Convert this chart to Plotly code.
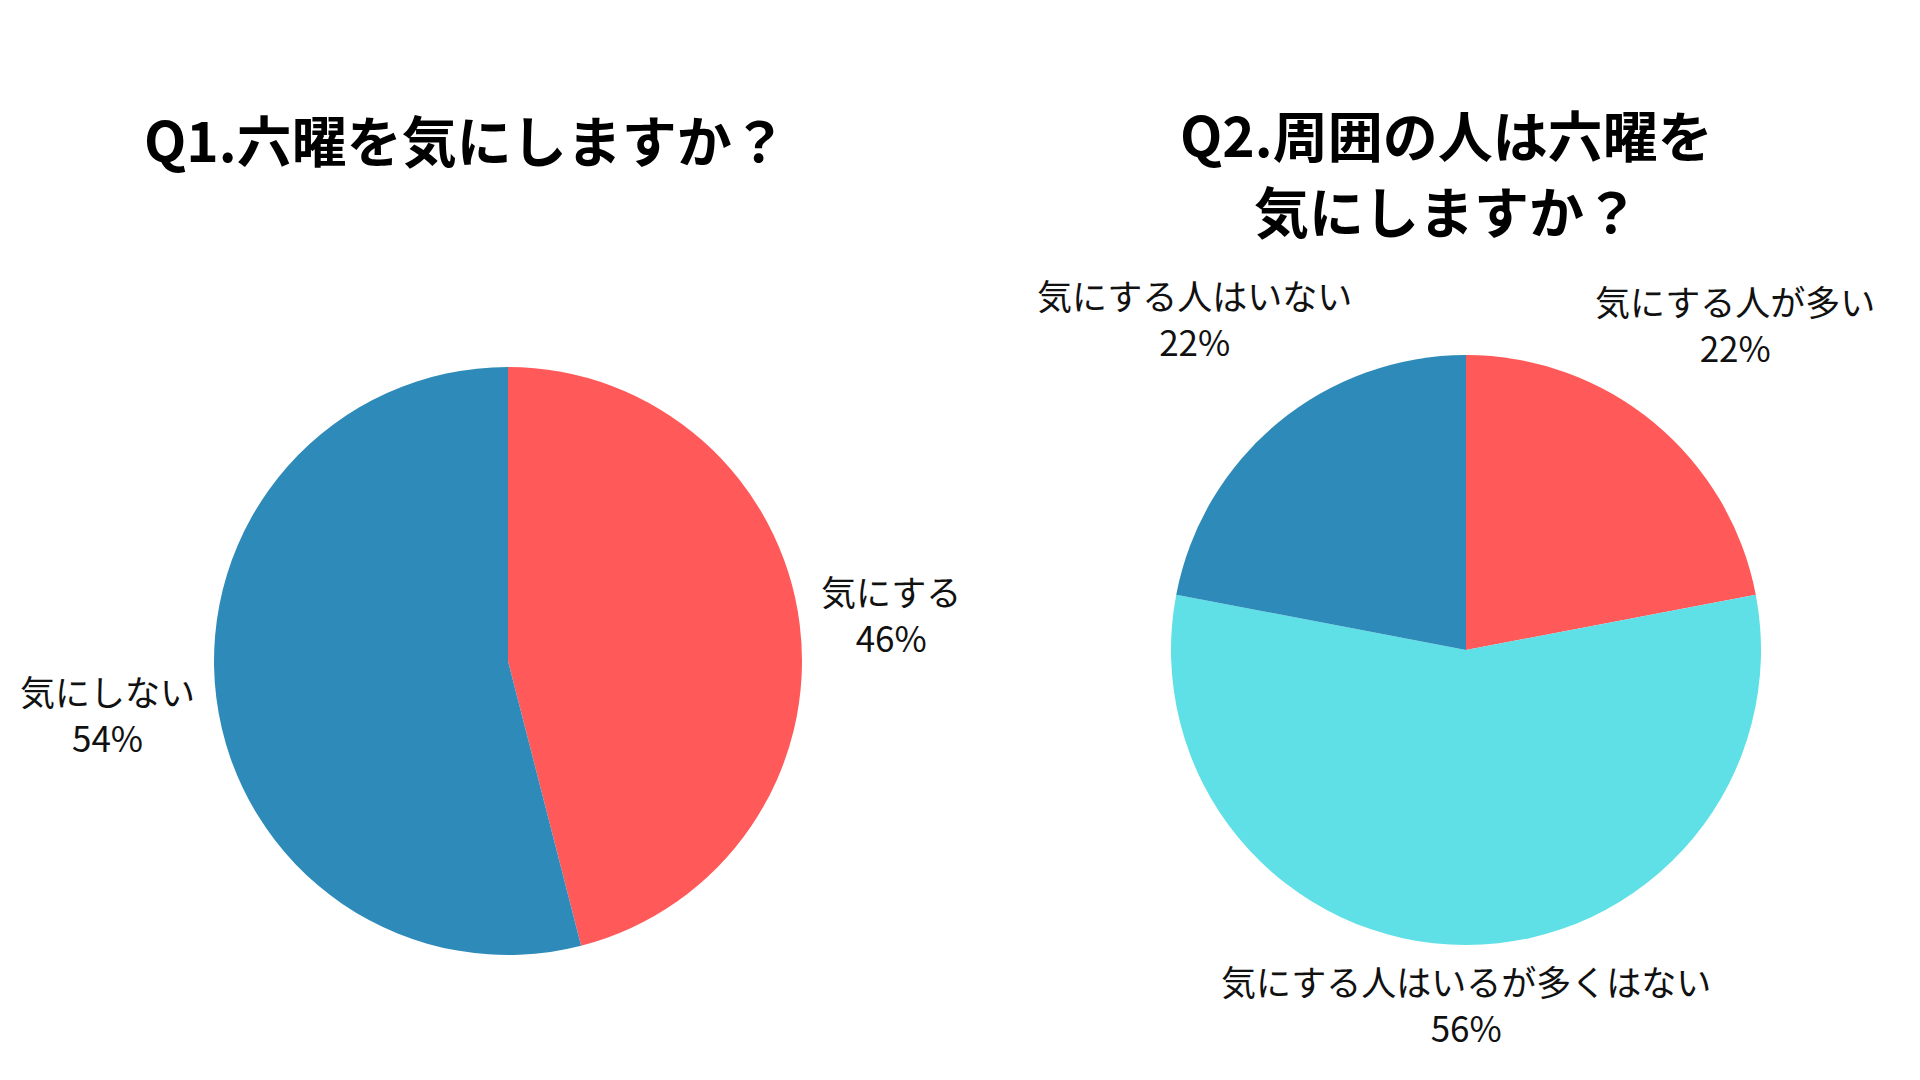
import plotly.graph_objects as go

# Q1
q1_title = "Q1.六曜を気にしますか？"
q1_labels = ["気にする", "気にしない"]
q1_values = [46, 54]
q1_colors = ["#FF5959", "#2E8BB9"]

# Q2
q2_title_lines = ["Q2.周囲の人は六曜を", "気にしますか？"]
q2_labels = ["気にする人が多い", "気にする人はいるが多くはない", "気にする人はいない"]
q2_values = [22, 56, 22]
q2_colors = ["#FF5959", "#5EE0E6", "#2E8BB9"]

W, H = 1920, 1080
OFF = 8  # page body margin
TITLE_FONT = "Noto Sans CJK JP"
LABEL_FONT = "Noto Sans CJK JP"


def px_x(x):
    return (x - OFF) / W


def px_y(y):
    return 1 - (y - OFF) / H


def pie_domain(cx, cy, r):
    return dict(x=[px_x(cx - r), px_x(cx + r)], y=[px_y(cy + r), px_y(cy - r)])


fig = go.Figure()

fig.add_trace(go.Pie(
    labels=q1_labels,
    values=q1_values,
    marker=dict(colors=q1_colors, line=dict(width=0)),
    sort=False,
    direction="clockwise",
    rotation=0,
    textinfo="none",
    hoverinfo="label+percent",
    domain=pie_domain(508, 661, 294),
    showlegend=False,
))

fig.add_trace(go.Pie(
    labels=q2_labels,
    values=q2_values,
    marker=dict(colors=q2_colors, line=dict(width=0)),
    sort=False,
    direction="clockwise",
    rotation=0,
    textinfo="none",
    hoverinfo="label+percent",
    domain=pie_domain(1466, 650, 295),
    showlegend=False,
))


def label_text(name, value):
    return f"{name}<br>{value}%"


# outside label centres in screen pixels (x, y from top)
q1_label_pos = [(891, 613), (107, 713)]
q2_label_pos = [(1735, 324), (1466, 1003), (1194, 318)]

annotations = [
    dict(text=f"<b>{q1_title}</b>", x=px_x(465), y=px_y(138)),
    dict(text=f"<b>{q2_title_lines[0]}</b>", x=px_x(1446), y=px_y(133)),
    dict(text=f"<b>{q2_title_lines[1]}</b>", x=px_x(1446), y=px_y(209)),
]
for a in annotations:
    a["font"] = dict(family=TITLE_FONT, size=55, color="#000000")

for names, vals, pos in [(q1_labels, q1_values, q1_label_pos), (q2_labels, q2_values, q2_label_pos)]:
    for name, val, (lx, ly) in zip(names, vals, pos):
        annotations.append(dict(
            text=label_text(name, val), x=px_x(lx), y=px_y(ly),
            font=dict(family=LABEL_FONT, size=35, color="#111111"),
        ))

for a in annotations:
    a.update(xref="paper", yref="paper", showarrow=False, xanchor="center", yanchor="middle")

fig.update_layout(
    width=W,
    height=H,
    margin=dict(l=0, r=0, t=0, b=0),
    paper_bgcolor="#FFFFFF",
    plot_bgcolor="#FFFFFF",
    annotations=annotations,
)

fig.write_html("out.html")
